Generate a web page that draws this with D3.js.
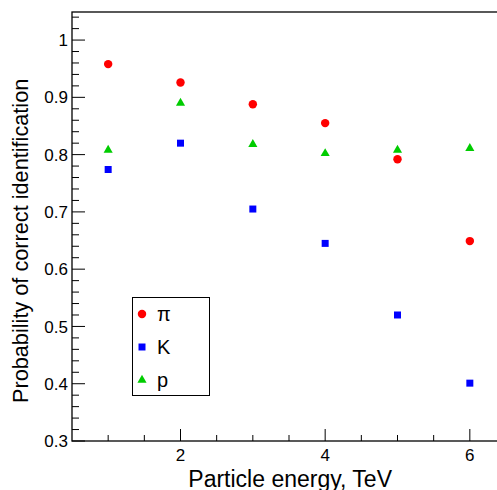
<!DOCTYPE html>
<html><head><meta charset="utf-8">
<script src="https://cdn.jsdelivr.net/npm/d3@7"></script>
<style>body{margin:0;background:#fff}svg{display:block}text{font-family:"Liberation Sans",Arial,sans-serif}</style>
</head><body>
<svg id="c" width="497" height="490"></svg>
<script>
const energies = [1, 2, 3, 4, 5, 6];
const piValues = [0.958, 0.926, 0.888, 0.855, 0.792, 0.649];
const kValues  = [0.774, 0.820, 0.705, 0.645, 0.520, 0.401];
const pValues  = [0.808, 0.890, 0.818, 0.802, 0.808, 0.811];
const xTickLabels = [2, 4, 6];
const yTickLabels = [0.3, 0.4, 0.5, 0.6, 0.7, 0.8, 0.9, 1];
const legendLabels = ["π", "K", "p"];

const svg = d3.select("#c");
const L = 72, T = 12, B = 441, R = 506;
const x = d3.scaleLinear().domain([0.5, 6.5]).range([L, R]);
const y = d3.scaleLinear().domain([0.3, 1.049]).range([B, T]);

// frame
svg.append("rect").attr("x", L).attr("y", T).attr("width", R - L).attr("height", B - T)
  .attr("fill", "none").attr("stroke", "#000").attr("stroke-width", 1.3);

// x ticks
const xMinor = d3.range(1, 6.51, 0.5);
svg.append("g").selectAll("line").data(xMinor).join("line")
  .attr("x1", d => x(d)).attr("x2", d => x(d))
  .attr("y1", B).attr("y2", d => xTickLabels.includes(d) ? B - 12 : B - 6)
  .attr("stroke", "#000").attr("stroke-width", 1);
svg.append("g").selectAll("text").data(xTickLabels).join("text")
  .attr("x", d => x(d)).attr("y", B + 20).attr("text-anchor", "middle")
  .attr("font-size", 17).text(d => d);

// y ticks
const yMinor = d3.range(0, 38).map(i => +(0.3 + i * 0.02).toFixed(2)).filter(v => v <= 1.049);
svg.append("g").selectAll("line").data(yMinor).join("line")
  .attr("x1", L).attr("x2", d => yTickLabels.some(t => Math.abs(t - d) < 1e-6) ? L + 13 : L + 7)
  .attr("y1", d => y(d)).attr("y2", d => y(d))
  .attr("stroke", "#000").attr("stroke-width", 1);
svg.append("g").selectAll("text").data(yTickLabels).join("text")
  .attr("x", L - 4).attr("y", d => y(d)).attr("dy", "0.36em").attr("text-anchor", "end")
  .attr("font-size", 17).text(d => d === 1 ? "1" : d.toFixed(1));

// axis titles
svg.append("text").attr("x", 392).attr("y", 487).attr("text-anchor", "end")
  .attr("font-size", 23).text("Particle energy, TeV");
svg.append("text").attr("transform", "translate(28,403) rotate(-90)").attr("text-anchor", "start")
  .attr("font-size", 21.7).text("Probability of correct identification");

// markers
const circ = d3.symbol().type(d3.symbolCircle).size(56);
const sq = d3.symbol().type(d3.symbolSquare).size(49);
const tri = d3.symbol().type(d3.symbolTriangle).size(36);

const series = [
  {vals: piValues, sym: circ, color: "#ff0000"},
  {vals: kValues, sym: sq, color: "#0000ff"},
  {vals: pValues, sym: tri, color: "#00cc00"}
];
series.forEach(s => {
  svg.append("g").selectAll("path").data(energies).join("path")
    .attr("transform", (d, i) => `translate(${x(d)},${y(s.vals[i])})`)
    .attr("d", s.sym()).attr("fill", s.color);
});

// legend
const lg = svg.append("g");
lg.append("rect").attr("x", 132.5).attr("y", 297.5).attr("width", 77).attr("height", 98)
  .attr("fill", "#fff").attr("stroke", "#000").attr("stroke-width", 1);
series.forEach((s, i) => {
  const yy = 314 + i * 33;
  lg.append("path").attr("transform", `translate(142,${yy})`).attr("d", s.sym()).attr("fill", s.color);
  lg.append("text").attr("x", 157).attr("y", yy).attr("dy", "0.36em").attr("font-size", 20).text(legendLabels[i]);
});
</script>
</body></html>
